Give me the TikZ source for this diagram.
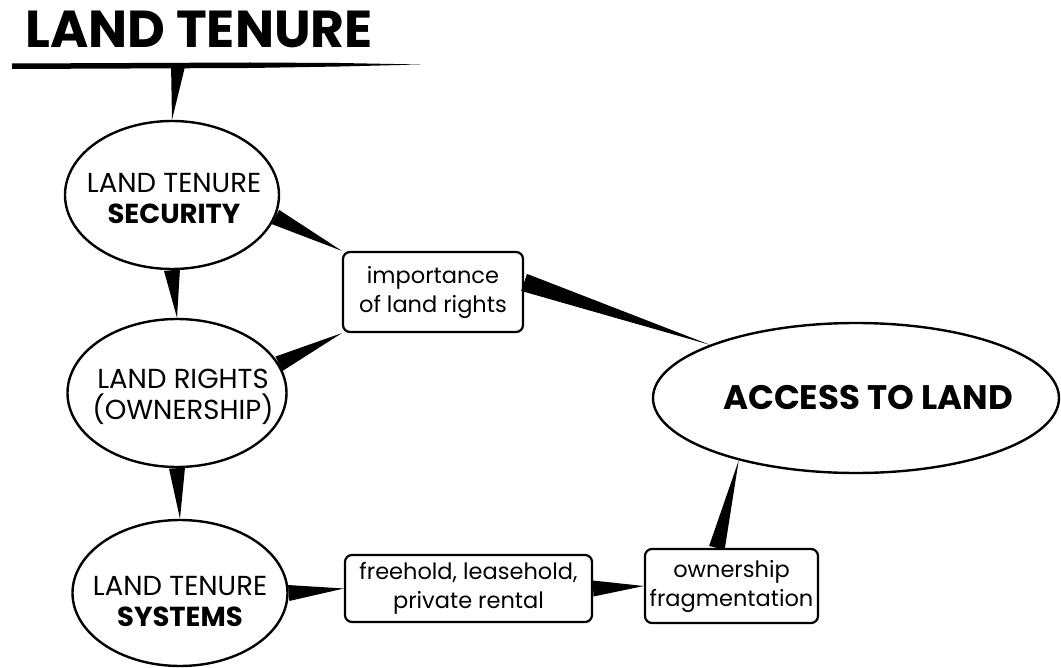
\documentclass[tikz,border=0pt]{standalone}
\usepackage{fontspec}
\setmainfont{Poppins}
\usetikzlibrary{calc,shapes.geometric}
\newcommand\brushconn[3]{\fill[brush] ($(#1)!#3!90:(#2)$) -- ($(#1)!#3!-90:(#2)$) -- (#2) -- cycle;}
\begin{document}
\begin{tikzpicture}[x=1pt,y=-1pt,
  oval/.style={ellipse,draw,line width=2.4pt,inner sep=0pt},
  tbox/.style={rectangle,rounded corners=7pt,draw,line width=2.2pt,inner sep=0pt},
  otext/.style={align=center,font=\fontsize{27.5}{31}\selectfont},
  btext/.style={align=center,font=\fontsize{22.5}{29}\selectfont},
  brush/.style={fill=black}]
\useasboundingbox (0,0) rectangle (1061,668);
% title
\node[anchor=base west,inner sep=0pt,font=\fontsize{52}{56}\selectfont\bfseries] (title) at (25,48) {LAND TENURE};
\fill (12,63.5) -- (250,62.5) -- (340,63) -- (420,64.5) -- (340,66.5) -- (250,68) -- (12,69) -- cycle;
\coordinate (lineT) at (178,66);
% ellipses
\node[oval,minimum width=214pt,minimum height=148pt] (sec) at (172,195) {};
\node[oval,minimum width=219pt,minimum height=148pt] (rig) at (177,393) {};
\node[oval,minimum width=215pt,minimum height=146pt] (sys) at (180,593) {};
\node[oval,minimum width=406pt,minimum height=150pt] (acc) at (856,398) {};
\node[otext] (secT) at (174,199) {LAND TENURE\\\textbf{SECURITY}};
\node[otext] (rigT) at (183,397) {LAND RIGHTS\\(OWNERSHIP)};
\node[otext] (sysT) at (180,601) {LAND TENURE\\\textbf{SYSTEMS}};
\node[font=\fontsize{34}{38}\selectfont\bfseries] (accT) at (868,398) {ACCESS TO LAND};
% boxes
\node[tbox,minimum width=180pt,minimum height=80pt] (imp) at (433,292) {};
\node[tbox,minimum width=247pt,minimum height=67pt] (fre) at (468.5,588.5) {};
\node[tbox,minimum width=173pt,minimum height=74pt] (own) at (731.5,586) {};
\node[btext] (impT) at (imp) {importance\\of land rights};
\node[btext] (freT) at (fre) {freehold, leasehold,\\private rental};
\node[btext] (ownT) at (own) {ownership\\fragmentation};
% brush connectors (thick end first, tip second)
\brushconn{lineT}{sec.north}{7pt}
\brushconn{sec.south}{rig.north}{8pt}
\brushconn{rig.south}{sys.north}{8pt}
\brushconn{sec.-12}{imp.north west}{8pt}
\brushconn{rig.16}{imp.south west}{8pt}
\brushconn{imp.6}{acc.160}{9pt}
\brushconn{sys.east}{fre.west}{8pt}
\brushconn{fre.east}{own.west}{8pt}
\brushconn{own.111}{acc.-152}{8pt}
\end{tikzpicture}
\end{document}
